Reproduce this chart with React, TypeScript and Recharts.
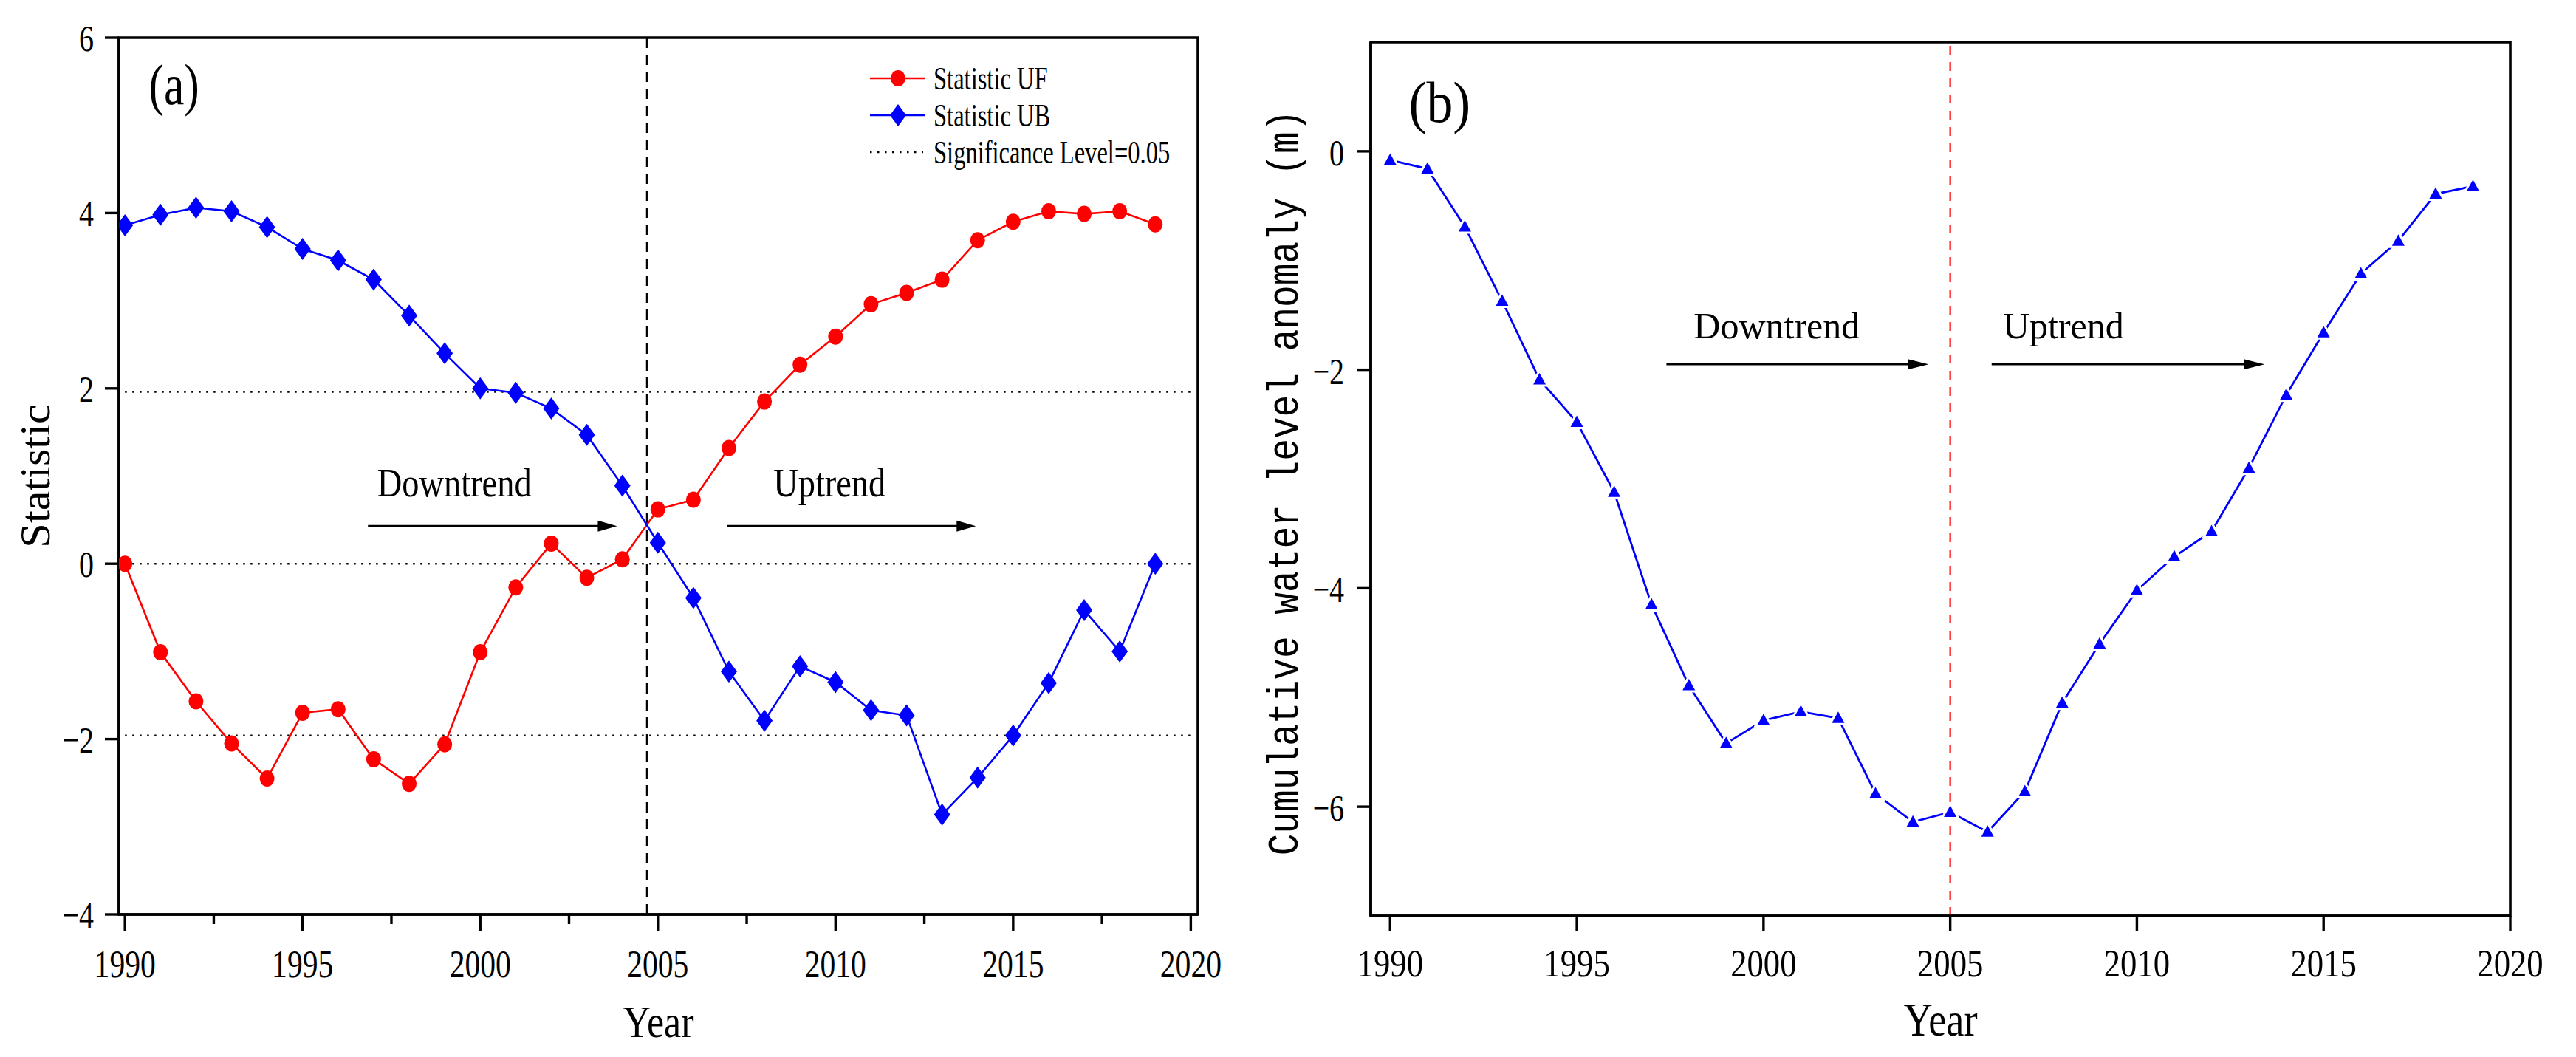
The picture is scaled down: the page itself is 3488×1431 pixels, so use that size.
import React from 'react';
import {
  LineChart,
  Line,
  XAxis,
  YAxis,
  ReferenceLine,
  ReferenceArea,
  ReferenceDot,
  Legend,
  Label,
} from 'recharts';

// years of the record
const years = [
  1990, 1991, 1992, 1993, 1994, 1995, 1996, 1997, 1998, 1999,
  2000, 2001, 2002, 2003, 2004, 2005, 2006, 2007, 2008, 2009,
  2010, 2011, 2012, 2013, 2014, 2015, 2016, 2017, 2018, 2019,
];

// (a) Mann-Kendall statistics
const ufValues = [
  0.0, -1.01, -1.57, -2.05, -2.45, -1.7, -1.66, -2.23, -2.51, -2.06,
  -1.01, -0.27, 0.23, -0.16, 0.05, 0.62, 0.73, 1.32, 1.85, 2.27,
  2.59, 2.96, 3.09, 3.24, 3.69, 3.9, 4.02, 3.99, 4.02, 3.87,
];
const ubValues = [
  3.86, 3.98, 4.06, 4.02, 3.84, 3.59, 3.46, 3.24, 2.83, 2.4,
  2.0, 1.95, 1.77, 1.47, 0.89, 0.24, -0.39, -1.23, -1.79, -1.17,
  -1.35, -1.67, -1.73, -2.86, -2.44, -1.96, -1.36, -0.53, -1.0, 0.0,
];

// (b) cumulative water level anomaly (m)
const anomalyValues = [
  -0.08, -0.16, -0.69, -1.37, -2.09, -2.48, -3.12, -4.15, -4.89, -5.42,
  -5.21, -5.13, -5.19, -5.88, -6.14, -6.05, -6.23, -5.86, -5.05, -4.51,
  -4.02, -3.71, -3.48, -2.9, -2.23, -1.66, -1.12, -0.82, -0.39, -0.32,
];

const statTicks = [-4, -2, 0, 2, 4, 6];
const anomalyTicks = [-6, -4, -2, 0];
const yearTicksA = [
  1990, 1992.5, 1995, 1997.5, 2000, 2002.5, 2005, 2007.5, 2010, 2012.5,
  2015, 2017.5, 2020,
];
const yearTicksB = [1990, 1995, 2000, 2005, 2010, 2015, 2020];

const significance = 1.96;
const changePointA = 2004.69;
const changePointB = 2005;

const statData = years.map((year, i) => ({ year, uf: ufValues[i], ub: ubValues[i] }));
const anomalyData = years.map((year, i) => ({ year, anomaly: anomalyValues[i] }));

const SERIF = '"Liberation Serif", "Times New Roman", serif';
const MONO = '"Liberation Mono", "DejaVu Sans Mono", monospace';
const RED = '#ff0000';
const BLUE = '#0000ff';

const fmt = (v: number) => (v < 0 ? `\u2212${Math.abs(v)}` : `${v}`);

function makeXTick(majorLen: number, minorLen: number, labelDy: number, sx: number) {
  return (props: any) => {
    const { x, y, payload } = props;
    const major = payload.value % 5 === 0;
    return (
      <g>
        <line x1={x} x2={x} y1={y} y2={y + (major ? majorLen : minorLen)} stroke="#000" strokeWidth={3.4} />
        {major && (
          <text
            transform={`translate(${x},${y + labelDy}) scale(${sx},1)`}
            textAnchor="middle"
            fontFamily={SERIF}
            fontSize={52}
            fill="#000"
          >
            {payload.value}
          </text>
        )}
      </g>
    );
  };
}

function makeYTick(len: number, gap: number, dy: number, sx: number) {
  return (props: any) => {
    const { x, y, payload } = props;
    return (
      <g>
        <line x1={x - len} x2={x} y1={y} y2={y} stroke="#000" strokeWidth={3.4} />
        <text
          transform={`translate(${x - gap},${y + dy}) scale(${sx},1)`}
          textAnchor="end"
          fontFamily={SERIF}
          fontSize={50}
          fill="#000"
        >
          {fmt(payload.value)}
        </text>
      </g>
    );
  };
}

const CircleDot = (p: any) =>
  p.cx == null ? null : <ellipse key={`uf-${p.index}`} cx={p.cx} cy={p.cy} rx={10} ry={11} fill={RED} />;

const DiamondDot = (p: any) =>
  p.cx == null ? null : (
    <polygon
      key={`ub-${p.index}`}
      points={`${p.cx},${p.cy - 15} ${p.cx + 11},${p.cy} ${p.cx},${p.cy + 15} ${p.cx - 11},${p.cy}`}
      fill={BLUE}
    />
  );

const TriangleDot = (p: any) =>
  p.cx == null ? null : (
    <polygon
      key={`an-${p.index}`}
      points={`${p.cx},${p.cy - 9} ${p.cx + 8.5},${p.cy + 6.5} ${p.cx - 8.5},${p.cy + 6.5}`}
      fill={BLUE}
      stroke="#fff"
      strokeWidth={6}
      paintOrder="stroke"
    />
  );

function makeArrow(headLen: number, headHalf: number) {
  return (props: any) => {
    const { x1, y1, x2, y2 } = props;
    return (
      <g>
        <line x1={x1} y1={y1} x2={x2 - headLen + 2} y2={y2} stroke="#000" strokeWidth={2.6} />
        <polygon
          points={`${x2},${y2} ${x2 - headLen},${y2 - headHalf} ${x2 - headLen},${y2 + headHalf}`}
          fill="#000"
        />
      </g>
    );
  };
}

function makeText(text: string, fontSize: number, sx: number) {
  return (props: any) => (
    <text
      transform={`translate(${props.cx},${props.cy}) scale(${sx},1)`}
      fontFamily={SERIF}
      fontSize={fontSize}
      fill="#000"
    >
      {text}
    </text>
  );
}

const renderLegend = () => (
  <svg width={480} height={160}>
    <line x1={13} x2={88} y1={36} y2={36} stroke={RED} strokeWidth={2.6} />
    <ellipse cx={51} cy={36} rx={10} ry={11} fill={RED} />
    <text transform="translate(99,51) scale(0.74,1)" fontFamily={SERIF} fontSize={44} fill="#000">
      Statistic UF
    </text>
    <line x1={13} x2={88} y1={86} y2={86} stroke={BLUE} strokeWidth={2.6} />
    <polygon points="51,71 62,86 51,101 40,86" fill={BLUE} />
    <text transform="translate(99,101) scale(0.74,1)" fontFamily={SERIF} fontSize={44} fill="#000">
      Statistic UB
    </text>
    <line x1={13} x2={85} y1={136} y2={136} stroke="#000" strokeWidth={2.5} strokeDasharray="2.5 7.5" />
    <text transform="translate(99,151) scale(0.74,1)" fontFamily={SERIF} fontSize={44} fill="#000">
      Significance Level=0.05
    </text>
  </svg>
);

function StatisticChart() {
  return (
    <LineChart
      width={1700}
      height={1431}
      data={statData}
      margin={{ top: 51, left: 160, right: 78, bottom: 192 }}
    >
      <XAxis
        dataKey="year"
        type="number"
        domain={[1989.83, 2020.2]}
        allowDataOverflow
        ticks={yearTicksA}
        interval={0}
        height={1}
        tickSize={0}
        tickMargin={0}
        tickLine={false}
        axisLine={{ stroke: '#000', strokeWidth: 3.6 }}
        tick={makeXTick(23, 13, 85, 0.8)}
      >
        <Label
          content={(p: any) => {
            const { x, y, width } = p.viewBox;
            return (
              <text
                transform={`translate(${x + width / 2},${y + 166}) scale(0.84,1)`}
                textAnchor="middle"
                fontFamily={SERIF}
                fontSize={62}
                fill="#000"
              >
                Year
              </text>
            );
          }}
        />
      </XAxis>
      <YAxis
        type="number"
        domain={[-4, 6]}
        allowDataOverflow
        ticks={statTicks}
        interval={0}
        width={1}
        tickSize={0}
        tickMargin={0}
        tickLine={false}
        axisLine={{ stroke: '#000', strokeWidth: 3.6 }}
        tick={makeYTick(19, 34, 18, 0.8)}
      >
        <Label
          content={(p: any) => {
            const { x, y, height } = p.viewBox;
            return (
              <text
                transform={`translate(${x - 93},${y + height / 2}) rotate(-90) scale(1.04,1)`}
                textAnchor="middle"
                fontFamily={SERIF}
                fontSize={58}
                fill="#000"
              >
                Statistic
              </text>
            );
          }}
        />
      </YAxis>
      <ReferenceArea
        x1={1989.83}
        x2={2020.2}
        y1={-4}
        y2={6}
        fill="none"
        stroke="#000"
        strokeWidth={3.6}
        ifOverflow="visible"
      />
      {[significance, 0, -significance].map((v) => (
        <ReferenceLine
          key={v}
          segment={[{ x: 1990, y: v }, { x: 2020, y: v }]}
          stroke="#000"
          strokeWidth={2.5}
          strokeDasharray="2.5 7.5"
        />
      ))}
      <ReferenceLine x={changePointA} stroke="#000" strokeWidth={2.2} strokeDasharray="14 9" />
      <ReferenceLine
        segment={[{ x: 1996.84, y: 0.43 }, { x: 2003.85, y: 0.43 }]}
        shape={makeArrow(26, 7.5)}
      />
      <ReferenceLine
        segment={[{ x: 2006.94, y: 0.43 }, { x: 2013.95, y: 0.43 }]}
        shape={makeArrow(26, 7.5)}
      />
      <ReferenceDot x={1997.1} y={0.77} r={0} shape={makeText('Downtrend', 54, 0.86)} />
      <ReferenceDot x={2008.25} y={0.77} r={0} shape={makeText('Uptrend', 54, 0.86)} />
      <ReferenceDot x={1990.67} y={5.24} r={0} shape={makeText('(a)', 78, 0.79)} />
      <Line
        dataKey="uf"
        name="Statistic UF"
        stroke={RED}
        strokeWidth={2.6}
        dot={CircleDot}
        activeDot={false}
        isAnimationActive={false}
      />
      <Line
        dataKey="ub"
        name="Statistic UB"
        stroke={BLUE}
        strokeWidth={2.6}
        dot={DiamondDot}
        activeDot={false}
        isAnimationActive={false}
      />
      <Legend
        content={renderLegend}
        layout="horizontal"
        verticalAlign="middle"
        align="center"
        wrapperStyle={{ left: 1165, top: 70, width: 480, height: 160 }}
      />
    </LineChart>
  );
}

function AnomalyChart() {
  return (
    <LineChart
      width={1788}
      height={1431}
      data={anomalyData}
      margin={{ top: 57, left: 155, right: 89, bottom: 190 }}
    >
      <XAxis
        dataKey="year"
        type="number"
        domain={[1989.48, 2020]}
        allowDataOverflow
        ticks={yearTicksB}
        interval={0}
        height={1}
        tickSize={0}
        tickMargin={0}
        tickLine={false}
        axisLine={{ stroke: '#000', strokeWidth: 3.6 }}
        tick={makeXTick(21, 21, 82, 0.86)}
      >
        <Label
          content={(p: any) => {
            const { x, y, width } = p.viewBox;
            return (
              <text
                transform={`translate(${x + width / 2},${y + 162}) scale(0.85,1)`}
                textAnchor="middle"
                fontFamily={SERIF}
                fontSize={64}
                fill="#000"
              >
                Year
              </text>
            );
          }}
        />
      </XAxis>
      <YAxis
        type="number"
        domain={[-7, 1]}
        allowDataOverflow
        ticks={anomalyTicks}
        interval={0}
        width={1}
        tickSize={0}
        tickMargin={0}
        tickLine={false}
        axisLine={{ stroke: '#000', strokeWidth: 3.6 }}
        tick={makeYTick(19, 36, 19, 0.8)}
      >
        <Label
          content={(p: any) => {
            const { x, y, height } = p.viewBox;
            return (
              <text
                transform={`translate(${x - 98},${y + height / 2 + 5}) rotate(-90) scale(1,1.18)`}
                textAnchor="middle"
                fontFamily={MONO}
                fontSize={49.5}
                fill="#000"
              >
                Cumulative water level anomaly (m)
              </text>
            );
          }}
        />
      </YAxis>
      <ReferenceArea
        x1={1989.48}
        x2={2020}
        y1={-7}
        y2={1}
        fill="none"
        stroke="#000"
        strokeWidth={3.6}
        ifOverflow="visible"
      />
      <ReferenceLine x={changePointB} stroke={RED} strokeWidth={2.2} strokeDasharray="12 10" />
      <ReferenceLine
        segment={[{ x: 1997.4, y: -1.95 }, { x: 2004.42, y: -1.95 }]}
        shape={makeArrow(28, 7)}
      />
      <ReferenceLine
        segment={[{ x: 2006.11, y: -1.95 }, { x: 2013.42, y: -1.95 }]}
        shape={makeArrow(28, 7)}
      />
      <ReferenceDot x={1998.13} y={-1.71} r={0} shape={makeText('Downtrend', 50, 1)} />
      <ReferenceDot x={2006.41} y={-1.71} r={0} shape={makeText('Uptrend', 50, 1)} />
      <ReferenceDot x={1990.5} y={0.27} r={0} shape={makeText('(b)', 78, 0.92)} />
      <Line
        dataKey="anomaly"
        stroke={BLUE}
        strokeWidth={2.8}
        dot={TriangleDot}
        activeDot={false}
        isAnimationActive={false}
      />
    </LineChart>
  );
}

export default function App() {
  return (
    <div style={{ position: 'absolute', left: 0, top: 0, width: 3488, height: 1431, background: '#fff' }}>
      <div style={{ position: 'absolute', left: 0, top: 0 }}>
        <StatisticChart />
      </div>
      <div style={{ position: 'absolute', left: 1700, top: 0 }}>
        <AnomalyChart />
      </div>
    </div>
  );
}
